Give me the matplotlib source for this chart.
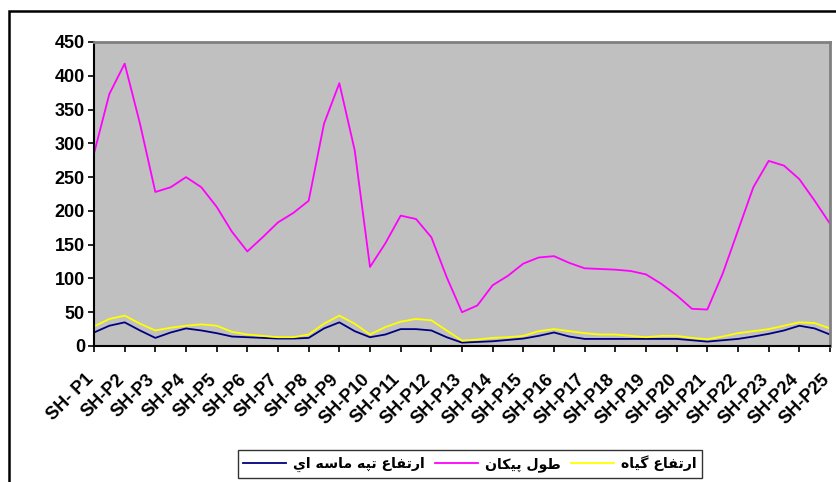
import matplotlib
matplotlib.use('Agg')
import matplotlib.pyplot as plt
from matplotlib.patches import Rectangle
from matplotlib.transforms import ScaledTranslation
import numpy as np

# categories (one tick each) and series read at half-category steps
labels = ['SH- P1'] + ['SH-P%d' % i for i in range(2, 26)]
steps = np.arange(0, 24.5, 0.5)

tall = [285, 373, 418, 329, 228, 235, 250, 235, 206, 169, 140, 161, 183,
        197, 215, 329, 389, 290, 117, 152, 193, 188, 161, 102, 50, 60,
        90, 104, 122, 131, 133, 123, 115, 114, 113, 111, 106, 92, 75, 55,
        54, 107, 171, 235, 274, 267, 247, 215, 181]
plant = [29, 40, 45, 33, 23, 27, 30, 32, 30, 21, 17, 15, 13, 13, 17, 33,
         45, 33, 17, 28, 36, 40, 38, 23, 8, 9.5, 12, 13, 15, 22, 25, 22,
         19, 17, 17, 15, 13, 15, 15, 12, 10, 14, 19, 22, 25, 30, 35, 34, 26]
dune = [20, 30, 35, 23, 12, 20, 26, 23, 19, 14, 13, 12, 11, 11, 12, 26,
        35, 22, 13, 17, 25, 25, 23, 13, 5, 6, 7, 9, 11, 15, 20, 14, 10.5,
        10.5, 10.5, 10.5, 10.5, 10.5, 10.5, 8.5, 6.5, 8.5, 10.5, 14, 18,
        23, 30, 26, 17]

names = ['ارتفاع تپه ماسه اي', 'طول پیکان', 'ارتفاع گیاه']

# simple arabic shaping (matplotlib has no bidi / joining)
forms = {
    'ا': (0xFE8D, 0xFE8E, None, None), 'ر': (0xFEAD, 0xFEAE, None, None),
    'و': (0xFEED, 0xFEEE, None, None),
    'ت': (0xFE95, 0xFE96, 0xFE97, 0xFE98), 'ف': (0xFED1, 0xFED2, 0xFED3, 0xFED4),
    'ع': (0xFEC9, 0xFECA, 0xFECB, 0xFECC), 'پ': (0xFB56, 0xFB57, 0xFB58, 0xFB59),
    'ه': (0xFEE9, 0xFEEA, 0xFEEB, 0xFEEC), 'م': (0xFEE1, 0xFEE2, 0xFEE3, 0xFEE4),
    'س': (0xFEB1, 0xFEB2, 0xFEB3, 0xFEB4), 'ي': (0xFEF1, 0xFEF2, 0xFEF3, 0xFEF4),
    'ط': (0xFEC1, 0xFEC2, 0xFEC3, 0xFEC4), 'ل': (0xFEDD, 0xFEDE, 0xFEDF, 0xFEE0),
    'ی': (0xFBFC, 0xFBFD, 0xFBFE, 0xFBFF), 'ک': (0xFB8E, 0xFB8F, 0xFB90, 0xFB91),
    'ن': (0xFEE5, 0xFEE6, 0xFEE7, 0xFEE8), 'گ': (0xFB92, 0xFB93, 0xFB94, 0xFB95),
}

def shape(s):
    out = []
    for i, ch in enumerate(s):
        if ch not in forms:
            out.append(ch)
            continue
        p = s[i-1] if i > 0 else ''
        n = s[i+1] if i < len(s)-1 else ''
        jp = p in forms and forms[p][2] is not None
        jn = n in forms and forms[ch][2] is not None
        f = forms[ch]
        if jp and jn:
            c = f[3]
        elif jp:
            c = f[1]
        elif jn:
            c = f[2]
        else:
            c = f[0]
        out.append(chr(c))
    return ''.join(out)[::-1]

plt.rcParams['font.family'] = ['Liberation Sans', 'DejaVu Sans']

fig = plt.figure(figsize=(8.36, 4.82), dpi=100)
ax = fig.add_axes([94/836, 1-346/482, 736/836, 304/482])
ax.set_facecolor('#C0C0C0')

ax.plot(steps, dune, color='#000080', lw=1.3, label=shape(names[0]))
ax.plot(steps, tall, color='#FF00FF', lw=1.3, label=shape(names[1]))
ax.plot(steps, plant, color='#FFFF00', lw=1.3, label=shape(names[2]))

ax.set_xlim(0, 24)
ax.set_ylim(0, 450)
ax.set_yticks(range(0, 451, 50))
ax.set_xticks(range(25))
ax.set_xticklabels([])
# category labels, slanted and set a bit left of / below each tick
shift = ScaledTranslation(-0.09, -0.25, fig.dpi_scale_trans)
for i, lab in enumerate(labels):
    ax.text(i, 0, lab, transform=ax.get_xaxis_transform() + shift,
            rotation=45, ha='right', va='top', rotation_mode='anchor',
            fontsize=13, fontweight='bold', clip_on=False)
for t in ax.get_yticklabels():
    t.set_fontsize(13)
    t.set_fontweight('bold')
ax.tick_params(axis='both', direction='out', length=4.5, width=1.2, color='black')
ax.tick_params(axis='y', pad=2)

for s in ['top', 'right']:
    ax.spines[s].set_color('#808080')
    ax.spines[s].set_linewidth(2)
for s in ['left', 'bottom']:
    ax.spines[s].set_color('black')
    ax.spines[s].set_linewidth(1.5)

# outer chart frame, cut off on right and bottom
fig.patches.append(Rectangle((9/836, -0.2), 1.2, 1-11/482+0.2, transform=fig.transFigure,
                             fill=False, edgecolor='black', lw=1.8, clip_on=False))

leg = fig.legend(loc='center', bbox_to_anchor=(470/836, 1-464/482), ncol=3,
                 frameon=True, fancybox=False, edgecolor='black', handlelength=3.0,
                 columnspacing=0.75, handletextpad=0.5, borderpad=0.4,
                 borderaxespad=0,
                 prop={'family': 'DejaVu Sans', 'weight': 'bold', 'size': 10.2})
leg.get_frame().set_linewidth(1)

fig.savefig('out.png', dpi=100)
